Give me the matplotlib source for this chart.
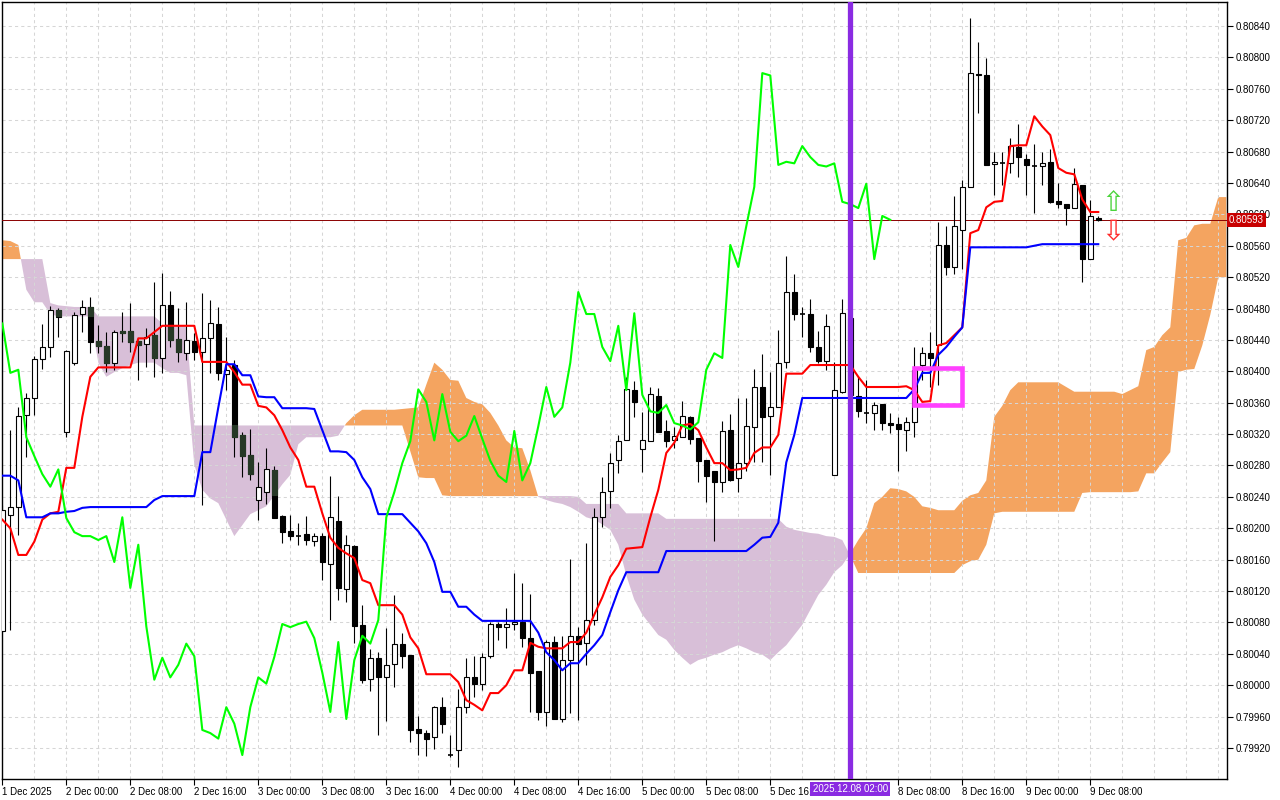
import numpy as np
import pandas as pd
import matplotlib
matplotlib.use("Agg")
import matplotlib.pyplot as plt
from matplotlib.patches import Rectangle

plt.rcParams['font.family'] = ['Liberation Sans', 'DejaVu Sans']

# hourly bars, weekend gap between 5 Dec 23:00 and 8 Dec 00:00
times = list(pd.date_range("2025-12-01 16:00", "2025-12-05 23:00", freq="h")) + \
    list(pd.date_range("2025-12-08 00:00", "2025-12-09 09:00", freq="h"))

opens = [0.80069, 0.80217, 0.80227, 0.80344, 0.80366, 0.80416, 0.80431, 0.80478, 0.80323, 0.80411,
         0.80473, 0.80482, 0.80439, 0.80432, 0.80411, 0.80451, 0.80451, 0.80439, 0.80435, 0.80446,
         0.80417, 0.80484, 0.80441, 0.80423, 0.80439, 0.80425, 0.80442, 0.80460, 0.80397, 0.80408,
         0.80319, 0.80293, 0.80236, 0.80246, 0.80274, 0.80216, 0.80196, 0.80191, 0.80193, 0.80184,
         0.80190, 0.80154, 0.80209, 0.80123, 0.80177, 0.80077, 0.80008, 0.80035, 0.80010, 0.80027,
         0.80053, 0.80039, 0.79944, 0.79939, 0.79934, 0.79972, 0.79912, 0.79918, 0.79972, 0.80010,
         0.80002, 0.80037, 0.80078, 0.80074, 0.80078, 0.80081, 0.80060, 0.80018, 0.79966, 0.80055,
         0.79957, 0.80032, 0.80063, 0.80054, 0.80083, 0.80214, 0.80247, 0.80287, 0.80312, 0.80376,
         0.80301, 0.80311, 0.80368, 0.80324, 0.80312, 0.80316, 0.80342, 0.80315, 0.80287, 0.80273,
         0.80259, 0.80325, 0.80264, 0.80283, 0.80329, 0.80380, 0.80343, 0.80354, 0.80412, 0.80501,
         0.80473, 0.80473, 0.80431, 0.80413, 0.80268, 0.80374, 0.80468, 0.80368, 0.80347, 0.80347,
         0.80358, 0.80334, 0.80333, 0.80325, 0.80335, 0.80408, 0.80423, 0.80433, 0.80561, 0.80533,
         0.80580, 0.80635, 0.80779, 0.80777, 0.80664, 0.80665, 0.80665, 0.80686, 0.80670, 0.80661,
         0.80661, 0.80667, 0.80617, 0.80613, 0.80608, 0.80637, 0.80543, 0.80595]
highs = [0.80230, 0.80325, 0.80354, 0.80372, 0.80419, 0.80460, 0.80483, 0.80481, 0.80427, 0.80476,
         0.80491, 0.80495, 0.80459, 0.80450, 0.80453, 0.80476, 0.80487, 0.80440, 0.80455, 0.80514,
         0.80525, 0.80502, 0.80481, 0.80488, 0.80449, 0.80500, 0.80491, 0.80482, 0.80444, 0.80414,
         0.80323, 0.80326, 0.80284, 0.80302, 0.80279, 0.80217, 0.80217, 0.80207, 0.80216, 0.80194,
         0.80194, 0.80267, 0.80241, 0.80191, 0.80179, 0.80102, 0.80046, 0.80042, 0.80073, 0.80115,
         0.80067, 0.80039, 0.79961, 0.79943, 0.79974, 0.79985, 0.79937, 0.79995, 0.80035, 0.80037,
         0.80041, 0.80081, 0.80081, 0.80098, 0.80143, 0.80130, 0.80116, 0.80018, 0.80058, 0.80063,
         0.80063, 0.80161, 0.80074, 0.80181, 0.80226, 0.80265, 0.80296, 0.80319, 0.80393, 0.80388,
         0.80348, 0.80380, 0.80379, 0.80338, 0.80329, 0.80362, 0.80343, 0.80315, 0.80287, 0.80273,
         0.80337, 0.80346, 0.80366, 0.80366, 0.80403, 0.80422, 0.80399, 0.80453, 0.80547, 0.80524,
         0.80482, 0.80492, 0.80451, 0.80473, 0.80412, 0.80492, 0.80484, 0.80393, 0.80389, 0.80361,
         0.80358, 0.80347, 0.80342, 0.80342, 0.80431, 0.80431, 0.80450, 0.80590, 0.80585, 0.80623,
         0.80644, 0.80850, 0.80819, 0.80799, 0.80679, 0.80679, 0.80697, 0.80715, 0.80677, 0.80690,
         0.80679, 0.80683, 0.80640, 0.80613, 0.80659, 0.80637, 0.80618, 0.80598]
lows = [0.80068, 0.80070, 0.80191, 0.80291, 0.80344, 0.80403, 0.80418, 0.80444, 0.80316, 0.80408,
        0.80450, 0.80423, 0.80423, 0.80399, 0.80402, 0.80437, 0.80425, 0.80389, 0.80405, 0.80393,
        0.80398, 0.80431, 0.80412, 0.80414, 0.80414, 0.80230, 0.80398, 0.80389, 0.80376, 0.80291,
        0.80265, 0.80261, 0.80211, 0.80231, 0.80213, 0.80181, 0.80185, 0.80179, 0.80179, 0.80177,
        0.80134, 0.80083, 0.80109, 0.80106, 0.80054, 0.80003, 0.79993, 0.79937, 0.79954, 0.79998,
        0.80022, 0.79928, 0.79911, 0.79910, 0.79919, 0.79939, 0.79909, 0.79896, 0.79965, 0.79985,
        0.79994, 0.80035, 0.80058, 0.80047, 0.80070, 0.80049, 0.79966, 0.79956, 0.79948, 0.79957,
        0.79953, 0.79965, 0.79956, 0.80026, 0.80077, 0.80202, 0.80226, 0.80270, 0.80312, 0.80342,
        0.80272, 0.80311, 0.80323, 0.80303, 0.80302, 0.80316, 0.80307, 0.80259, 0.80233, 0.80184,
        0.80246, 0.80260, 0.80246, 0.80273, 0.80284, 0.80284, 0.80268, 0.80354, 0.80404, 0.80465,
        0.80444, 0.80425, 0.80411, 0.80402, 0.80268, 0.80372, 0.80363, 0.80342, 0.80334, 0.80325,
        0.80325, 0.80321, 0.80273, 0.80298, 0.80316, 0.80389, 0.80380, 0.80383, 0.80523, 0.80524,
        0.80530, 0.80635, 0.80729, 0.80663, 0.80625, 0.80637, 0.80653, 0.80648, 0.80625, 0.80602,
        0.80637, 0.80614, 0.80608, 0.80586, 0.80608, 0.80514, 0.80543, 0.80591]
closes = [0.80223, 0.80227, 0.80343, 0.80366, 0.80416, 0.80431, 0.80478, 0.80469, 0.80426, 0.80472,
          0.80482, 0.80437, 0.80432, 0.80411, 0.80450, 0.80449, 0.80437, 0.80433, 0.80444, 0.80417,
          0.80484, 0.80440, 0.80425, 0.80440, 0.80425, 0.80442, 0.80461, 0.80398, 0.80402, 0.80316,
          0.80292, 0.80269, 0.80253, 0.80275, 0.80213, 0.80195, 0.80190, 0.80190, 0.80185, 0.80190,
          0.80157, 0.80214, 0.80124, 0.80179, 0.80075, 0.80007, 0.80035, 0.80010, 0.80026, 0.80053,
          0.80037, 0.79943, 0.79939, 0.79932, 0.79972, 0.79951, 0.79911, 0.79972, 0.80010, 0.80002,
          0.80036, 0.80078, 0.80074, 0.80078, 0.80081, 0.80060, 0.80016, 0.79966, 0.80055, 0.79957,
          0.80032, 0.80063, 0.80053, 0.80083, 0.80214, 0.80246, 0.80283, 0.80311, 0.80377, 0.80361,
          0.80312, 0.80371, 0.80323, 0.80311, 0.80318, 0.80343, 0.80314, 0.80286, 0.80267, 0.80259,
          0.80324, 0.80261, 0.80283, 0.80330, 0.80380, 0.80342, 0.80354, 0.80411, 0.80501, 0.80473,
          0.80473, 0.80431, 0.80413, 0.80458, 0.80376, 0.80474, 0.80370, 0.80349, 0.80347, 0.80357,
          0.80334, 0.80331, 0.80326, 0.80335, 0.80402, 0.80423, 0.80417, 0.80561, 0.80533, 0.80585,
          0.80635, 0.80780, 0.80777, 0.80663, 0.80667, 0.80665, 0.80687, 0.80673, 0.80663, 0.80661,
          0.80665, 0.80616, 0.80613, 0.80608, 0.80639, 0.80543, 0.80598, 0.80593]

tenkan = [0.80211, 0.80200, 0.80166, 0.80166, 0.80183, 0.80211, 0.80219, 0.80221, 0.80277, 0.80277,
          0.80342, 0.80393, 0.80405, 0.80405, 0.80405, 0.80405, 0.80405, 0.80442, 0.80442, 0.80450,
          0.80458, 0.80458, 0.80458, 0.80458, 0.80458, 0.80412, 0.80412, 0.80412, 0.80412, 0.80399,
          0.80383, 0.80383, 0.80356, 0.80354, 0.80344, 0.80325, 0.80303, 0.80287, 0.80253, 0.80253,
          0.80219, 0.80188, 0.80175, 0.80168, 0.80162, 0.80134, 0.80130, 0.80102, 0.80102, 0.80102,
          0.80090, 0.80061, 0.80047, 0.80014, 0.80014, 0.80014, 0.80014, 0.80004, 0.79981, 0.79975,
          0.79968, 0.79990, 0.79990, 0.80000, 0.80019, 0.80019, 0.80054, 0.80049, 0.80047, 0.80047,
          0.80047, 0.80055, 0.80055, 0.80067, 0.80090, 0.80112, 0.80138, 0.80153, 0.80174, 0.80175,
          0.80176, 0.80214, 0.80249, 0.80296, 0.80309, 0.80331, 0.80333, 0.80325, 0.80303, 0.80283,
          0.80283, 0.80274, 0.80275, 0.80277, 0.80296, 0.80303, 0.80303, 0.80319, 0.80397, 0.80397,
          0.80397, 0.80408, 0.80408, 0.80408, 0.80408, 0.80408, 0.80408, 0.80393, 0.80380, 0.80380,
          0.80380, 0.80380, 0.80380, 0.80381, 0.80376, 0.80361, 0.80362, 0.80433, 0.80436, 0.80446,
          0.80456, 0.80576, 0.80580, 0.80609, 0.80616, 0.80617, 0.80687, 0.80688, 0.80688, 0.80725,
          0.80712, 0.80701, 0.80659, 0.80653, 0.80651, 0.80619, 0.80603, 0.80603]
kijun = [0.80267, 0.80267, 0.80261, 0.80214, 0.80214, 0.80214, 0.80219, 0.80219, 0.80221, 0.80222,
         0.80226, 0.80227, 0.80227, 0.80227, 0.80227, 0.80227, 0.80227, 0.80227, 0.80227, 0.80236,
         0.80241, 0.80241, 0.80241, 0.80241, 0.80241, 0.80297, 0.80297, 0.80354, 0.80409, 0.80409,
         0.80395, 0.80395, 0.80368, 0.80367, 0.80367, 0.80353, 0.80353, 0.80353, 0.80353, 0.80352,
         0.80325, 0.80298, 0.80298, 0.80297, 0.80287, 0.80265, 0.80250, 0.80218, 0.80218, 0.80218,
         0.80218, 0.80207, 0.80196, 0.80181, 0.80157, 0.80119, 0.80119, 0.80100, 0.80100, 0.80090,
         0.80082, 0.80082, 0.80082, 0.80082, 0.80082, 0.80082, 0.80082, 0.80067, 0.80042, 0.80032,
         0.80019, 0.80028, 0.80028, 0.80040, 0.80051, 0.80064, 0.80093, 0.80121, 0.80144, 0.80144,
         0.80144, 0.80144, 0.80144, 0.80171, 0.80171, 0.80171, 0.80171, 0.80171, 0.80171, 0.80171,
         0.80171, 0.80171, 0.80171, 0.80171, 0.80179, 0.80188, 0.80189, 0.80207, 0.80284, 0.80319,
         0.80366, 0.80366, 0.80366, 0.80366, 0.80366, 0.80366, 0.80366, 0.80366, 0.80366, 0.80366,
         0.80366, 0.80366, 0.80366, 0.80366, 0.80377, 0.80398, 0.80398, 0.80421, 0.80431, 0.80444,
         0.80456, 0.80558, 0.80558, 0.80558, 0.80558, 0.80558, 0.80558, 0.80558, 0.80558, 0.80560,
         0.80562, 0.80562, 0.80562, 0.80562, 0.80562, 0.80562, 0.80562, 0.80562]

# senkou spans, already shifted 26 bars ahead
span_a = [0.80567, 0.80566, 0.80561, 0.80504, 0.80488, 0.80488, 0.80473, 0.80470, 0.80470, 0.80470,
          0.80470, 0.80470, 0.80411, 0.80393, 0.80399, 0.80404, 0.80408, 0.80411, 0.80411, 0.80411,
          0.80404, 0.80398, 0.80398, 0.80395, 0.80281, 0.80249, 0.80238, 0.80232, 0.80211, 0.80190,
          0.80204, 0.80218, 0.80223, 0.80228, 0.80242, 0.80256, 0.80268, 0.80307, 0.80316, 0.80316,
          0.80316, 0.80316, 0.80318, 0.80334, 0.80344, 0.80351, 0.80351, 0.80351, 0.80351, 0.80351,
          0.80352, 0.80353, 0.80354, 0.80383, 0.80411, 0.80402, 0.80389, 0.80388, 0.80366, 0.80361,
          0.80358, 0.80347, 0.80331, 0.80312, 0.80303, 0.80302, 0.80274, 0.80240, 0.80236, 0.80233,
          0.80231, 0.80227, 0.80221, 0.80214, 0.80211, 0.80205, 0.80198, 0.80179, 0.80140, 0.80109,
          0.80090, 0.80077, 0.80064, 0.80058, 0.80045, 0.80035, 0.80026, 0.80032, 0.80035, 0.80039,
          0.80042, 0.80047, 0.80051, 0.80047, 0.80042, 0.80039, 0.80032, 0.80042, 0.80051, 0.80064,
          0.80077, 0.80096, 0.80115, 0.80128, 0.80144, 0.80153, 0.80168, 0.80185, 0.80200, 0.80232,
          0.80240, 0.80251, 0.80250, 0.80247, 0.80240, 0.80228, 0.80226, 0.80223, 0.80223, 0.80223,
          0.80235, 0.80242, 0.80245, 0.80261, 0.80342, 0.80356, 0.80376, 0.80386, 0.80386, 0.80386,
          0.80386, 0.80386, 0.80386, 0.80380, 0.80374, 0.80374, 0.80374, 0.80374, 0.80374, 0.80374,
          0.80371, 0.80376, 0.80381, 0.80427, 0.80431, 0.80446, 0.80456, 0.80567, 0.80570, 0.80586,
          0.80588, 0.80588, 0.80622, 0.80622]
span_b = [0.80543, 0.80543, 0.80543, 0.80543, 0.80543, 0.80543, 0.80487, 0.80484, 0.80483, 0.80482,
          0.80482, 0.80482, 0.80470, 0.80470, 0.80470, 0.80470, 0.80470, 0.80470, 0.80470, 0.80470,
          0.80461, 0.80459, 0.80459, 0.80456, 0.80331, 0.80331, 0.80331, 0.80331, 0.80331, 0.80331,
          0.80331, 0.80331, 0.80331, 0.80331, 0.80331, 0.80331, 0.80331, 0.80331, 0.80331, 0.80331,
          0.80331, 0.80331, 0.80331, 0.80331, 0.80331, 0.80331, 0.80331, 0.80331, 0.80331, 0.80331,
          0.80331, 0.80298, 0.80265, 0.80264, 0.80264, 0.80242, 0.80241, 0.80241, 0.80241, 0.80241,
          0.80241, 0.80241, 0.80241, 0.80241, 0.80241, 0.80241, 0.80241, 0.80241, 0.80241, 0.80241,
          0.80241, 0.80241, 0.80240, 0.80231, 0.80231, 0.80231, 0.80231, 0.80231, 0.80219, 0.80219,
          0.80219, 0.80219, 0.80219, 0.80212, 0.80212, 0.80212, 0.80212, 0.80212, 0.80212, 0.80212,
          0.80212, 0.80212, 0.80212, 0.80212, 0.80212, 0.80212, 0.80212, 0.80212, 0.80202, 0.80198,
          0.80196, 0.80194, 0.80193, 0.80190, 0.80189, 0.80185, 0.80165, 0.80143, 0.80143, 0.80143,
          0.80143, 0.80143, 0.80143, 0.80143, 0.80143, 0.80143, 0.80143, 0.80143, 0.80143, 0.80143,
          0.80153, 0.80158, 0.80160, 0.80179, 0.80219, 0.80221, 0.80221, 0.80221, 0.80221, 0.80221,
          0.80221, 0.80221, 0.80221, 0.80221, 0.80221, 0.80245, 0.80246, 0.80246, 0.80246, 0.80246,
          0.80246, 0.80246, 0.80247, 0.80270, 0.80270, 0.80284, 0.80297, 0.80399, 0.80402, 0.80403,
          0.80433, 0.80472, 0.80520, 0.80520]

last_price = 0.80593
marker_time = pd.Timestamp("2025-12-08 02:00")
box_times = (pd.Timestamp("2025-12-08 10:00"), pd.Timestamp("2025-12-08 16:00"))
box_prices = (0.80357, 0.80404)
signal_up_price = 0.80614
signal_down_price = 0.80577

o = np.array(opens); h = np.array(highs); l = np.array(lows); c = np.array(closes)
a = np.array(span_a); b = np.array(span_b)
n = len(c)
x = np.arange(n)
xc = np.arange(len(a))
shift = 26

fig = plt.figure(figsize=(12.8, 8), dpi=100)
ax = fig.add_axes([2 / 1280, 21 / 800, 1225 / 1280, 777 / 800])
ax.set_xlim(-0.04, 153.09)
ax.set_ylim(0.798805, 0.808706)

# kumo
ax.fill_between(xc, a, b, where=a >= b, interpolate=True, color='#f4a460', lw=0, zorder=1)
ax.fill_between(xc, a, b, where=a < b, interpolate=True, color='#d8bfd8', lw=0, zorder=1)

# grid
price_ticks = np.arange(0.7992, 0.80842, 0.0004)
for p in price_ticks:
    ax.axhline(p, color='#d6d6d6', lw=0.75, ls=(0, (3, 3)), zorder=1.5)
for gx in range(0, 156, 4):
    ax.axvline(gx, color='#d6d6d6', lw=0.75, ls=(0, (3, 3)), zorder=1.5)

ax.axhline(last_price, color='#8b0000', lw=0.7, zorder=2.6)

# candles
w = 0.6
ax.vlines(x, l, h, color='black', lw=0.8, zorder=3)
for i in range(n):
    lo, hi = min(o[i], c[i]), max(o[i], c[i])
    if hi - lo < 0.000015:
        ax.hlines(c[i], i - w / 2, i + w / 2, color='black', lw=1.2, zorder=3.5)
        continue
    fc = 'white' if c[i] >= o[i] else 'black'
    ax.add_patch(Rectangle((i - w / 2, lo), w, hi - lo, fc=fc, ec='black', lw=0.8, zorder=3.5))
    if fc == 'black':
        k_lo, k_hi = min(a[i], b[i]), max(a[i], b[i])
        ov_lo, ov_hi = max(lo, k_lo), min(hi, k_hi)
        if ov_hi > ov_lo:
            ax.add_patch(Rectangle((i - w / 2, ov_lo), w, ov_hi - ov_lo, fc='#263826',
                                   ec='#263826', lw=0.8, zorder=3.6))

# ichimoku lines
ax.plot(x, tenkan, color='#ff0000', lw=1.5, zorder=4)
ax.plot(x, kijun, color='#0000ff', lw=1.5, zorder=4)
ax.plot(x[:n - shift], c[shift:], color='#00ff00', lw=1.5, zorder=4)

# marker line + box
mi = times.index(marker_time)
ax.axvline(mi, color='#8a2be2', lw=3.8, zorder=5)
b0, b1 = times.index(box_times[0]), times.index(box_times[1])
ax.add_patch(Rectangle((b0, box_prices[0]), b1 - b0, box_prices[1] - box_prices[0],
                       fill=False, ec='#ff40ff', lw=3.3, zorder=6))

ax.text(n + 0.8, signal_up_price, '\u21e7', color='#4cd43c', fontsize=20, ha='center',
        va='center', family='DejaVu Sans', zorder=6)
ax.text(n + 0.8, signal_down_price, '\u21e9', color='#ff2a2a', fontsize=20, ha='center',
        va='center', family='DejaVu Sans', zorder=6)

# axes
ax.yaxis.tick_right()
ax.set_yticks(price_ticks)
ax.set_yticklabels([f"{p:.5f}" for p in price_ticks])
ax.tick_params(axis='y', direction='out', length=4, width=0.8, pad=2, labelsize=7)

tick_idx, tick_lab = [], []
for i, t in enumerate(times):
    if abs(i - mi) <= 3:
        continue
    if i == 0:
        tick_idx.append(i); tick_lab.append(f"{t.day} Dec {t.year}")
    elif t.hour % 8 == 0:
        tick_idx.append(i); tick_lab.append(f"{t.day} Dec {t:%H:%M}")
ax.set_xticks(tick_idx)
ax.set_xticklabels(tick_lab, ha='left')
ax.tick_params(axis='x', direction='out', length=4, width=0.8, pad=2, labelsize=7)
for s in ax.spines.values():
    s.set_linewidth(1)
    s.set_color('black')

ax.annotate(marker_time.strftime("%Y.%m.%d %H:%M"), xy=(mi, 0), xycoords=('data', 'axes fraction'),
            xytext=(0, -10), textcoords='offset pixels', ha='center', va='center', color='white',
            fontsize=7, annotation_clip=False, zorder=10,
            bbox=dict(boxstyle='square,pad=0.25', fc='#8a2be2', ec='none'))
ax.annotate(f"{last_price:.5f}", xy=(1, last_price), xycoords=('axes fraction', 'data'),
            xytext=(2, 0), textcoords='offset pixels', ha='left', va='center', color='white',
            fontsize=7, annotation_clip=False, zorder=10,
            bbox=dict(boxstyle='square,pad=0.2', fc='#c80000', ec='none'))

fig.savefig("out.png", dpi=100)
